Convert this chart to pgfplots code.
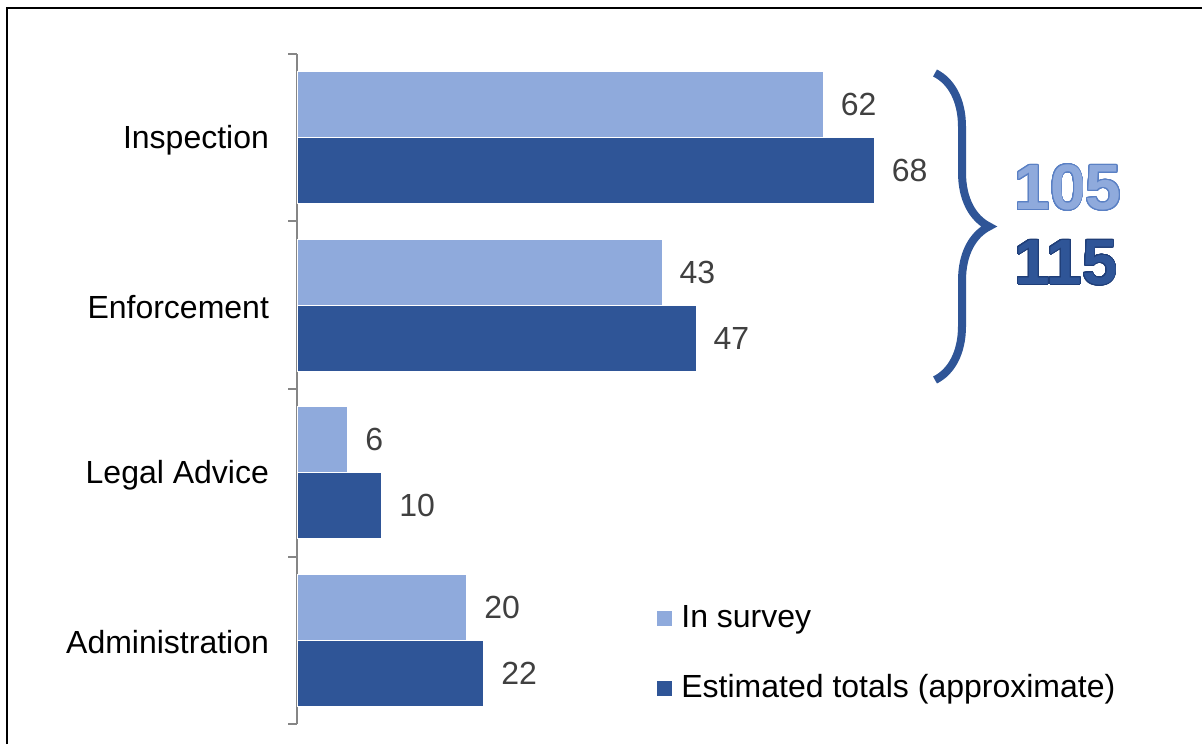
\documentclass[border=0pt]{standalone}
\usepackage{fontspec}
\setmainfont{Liberation Sans}
\usepackage{pgfplots}
\pgfplotsset{compat=1.18}
\usetikzlibrary{decorations.pathreplacing}
\usepackage{contour}
\contournumber{32}
\definecolor{lightb}{HTML}{8FAADC}
\definecolor{darkb}{HTML}{2F5597}
\definecolor{lightout}{HTML}{5A80C4}
\definecolor{darkout}{HTML}{1F3E78}
\definecolor{lbl}{HTML}{404040}
\definecolor{axgray}{HTML}{868686}
\begin{document}
\begin{tikzpicture}
\useasboundingbox (0,0) rectangle (601pt,372pt);
\fill[white] (0,0) rectangle (601pt,372pt);
\draw[line width=1pt] (3.5pt,0) -- (3.5pt,368pt) -- (601pt,368pt);
\begin{axis}[
  at={(148.5pt,10pt)}, anchor=south west,
  scale only axis, width=424.5pt, height=335pt,
  xmin=0, xmax=100, ymin=-0.5, ymax=3.5,
  xbar, bar width=33pt,
  axis x line=none, axis y line*=left,
  y axis line style={draw=axgray, line width=1pt},
  ytick={0,1,2,3},
  yticklabels={Administration,Legal Advice,Enforcement,Inspection},
  major tick length=0pt,
  minor ytick={-0.5,0.5,1.5,2.5,3.5},
  minor tick length=4.5pt, tick align=outside,
  every tick/.style={axgray, line width=1pt},
  every minor tick/.style={axgray, line width=1pt},
  yticklabel style={font=\fontsize{16}{19}\selectfont, xshift=-10.5pt, yshift=-1pt, text=black},
  /pgf/number format/assume math mode=true,
  nodes near coords,
  nodes near coords style={anchor=west, inner sep=0pt, xshift=8.5pt, font=\fontsize{16}{19}\selectfont, text=lbl},
  legend cell align=left,
  legend style={draw=none, fill=none, at={(0.424,0.179)}, anchor=north west,
    font=\fontsize{16}{19}\selectfont, inner sep=0pt, row sep=20pt,
    nodes={inner sep=0pt, text height=11.5pt, text depth=3.5pt}},
  legend image code/.code={\fill[#1, draw=none] (0pt,-3.5pt) rectangle (7.5pt,4pt);},
  /tikz/every odd column/.append style={column sep=4.5pt},
]
\addplot[fill=lightb, draw=white, line width=0.5pt, bar shift=16.5pt] coordinates {(62,3) (43,2) (6,1) (20,0)};
\addplot[fill=darkb, draw=white, line width=0.5pt, bar shift=-16.5pt] coordinates {(68,3) (47,2) (10,1) (22,0)};
\legend{In survey, Estimated totals (approximate)}
\end{axis}
\draw[darkb, line width=4pt, decorate, decoration={brace, amplitude=27pt}] (467.5pt,335.5pt) -- (467.5pt,182pt);
\contourlength{0.45pt}
\node[anchor=west, inner sep=0pt, font=\fontsize{32}{32}\selectfont\bfseries] at (507pt,278pt) {\contour{lightout}{\textcolor{lightb}{105}}};
\node[anchor=west, inner sep=0pt, font=\fontsize{32}{32}\selectfont\bfseries] at (507pt,240.5pt) {\contour{darkout}{\textcolor{darkb}{115}}};
\end{tikzpicture}
\end{document}
